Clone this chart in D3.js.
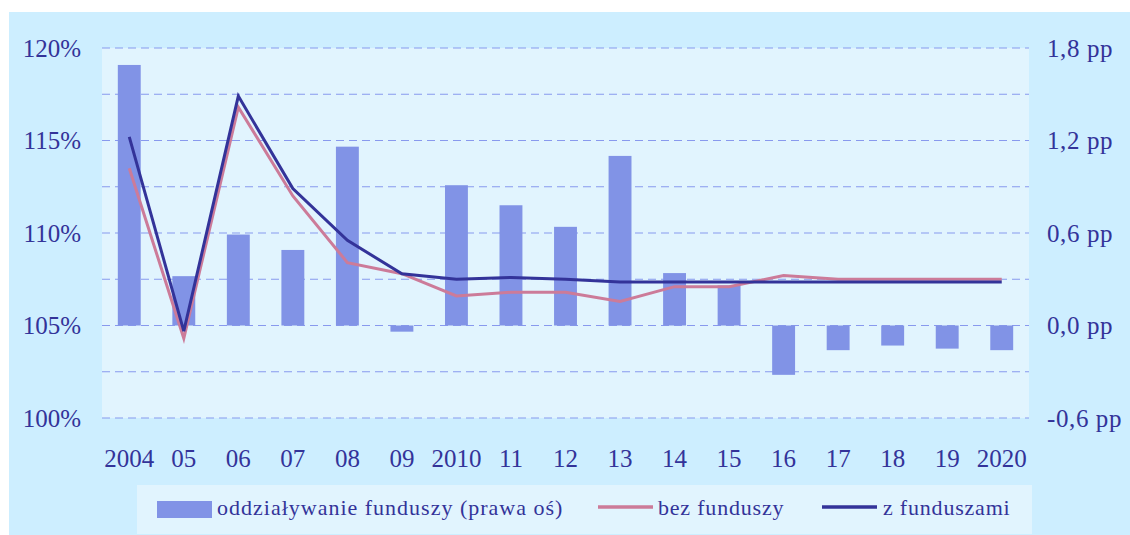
<!DOCTYPE html>
<html>
<head>
<meta charset="utf-8">
<script src="https://cdn.jsdelivr.net/npm/d3@7"></script>
<style>
  html, body { margin: 0; padding: 0; background: #ffffff; }
  svg { display: block; }
  text { font-family: "Liberation Serif", "Times New Roman", serif; fill: #333399; }
</style>
</head>
<body>
<svg id="chart" width="1130" height="535"></svg>
<script>
// ---- data ----
const years = ["2004","05","06","07","08","09","2010","11","12","13","14","15","16","17","18","19","2020"];
const fundImpact = [1.69, 0.32, 0.59, 0.49, 1.16, -0.04, 0.91, 0.78, 0.64, 1.10, 0.34, 0.26, -0.32, -0.16, -0.13, -0.15, -0.16]; // pp, right axis
const withoutFunds = [113.5, 104.3, 116.8, 112.0, 108.4, 107.8, 106.6, 106.8, 106.8, 106.3, 107.1, 107.1, 107.7, 107.5, 107.5, 107.5, 107.5]; // %
const withFunds = [115.2, 104.7, 117.4, 112.4, 109.6, 107.8, 107.5, 107.6, 107.5, 107.35, 107.35, 107.35, 107.35, 107.35, 107.35, 107.35, 107.35]; // %
const leftTicks = [100, 105, 110, 115, 120];
const rightTicks = [-0.6, 0.0, 0.6, 1.2, 1.8];
const gridTicks = [100, 102.5, 105, 107.5, 110, 112.5, 115, 117.5, 120];
const legendLabels = ["oddziaływanie funduszy (prawa oś)", "bez funduszy", "z funduszami"];

// ---- styles ----
const C = {
  outer: "#cdeeff", plot: "#e1f4fe", bar: "#8193e6",
  navy: "#333399", pink: "#cc7b99", grid: "#8899ee", text: "#333399"
};

const svg = d3.select("#chart");
const plot = { left: 102, right: 1029, top: 48, bottom: 418 };

// backgrounds
svg.append("rect").attr("x", 9).attr("y", 12).attr("width", 1121).attr("height", 523).attr("fill", C.outer);
svg.append("rect").attr("x", plot.left).attr("y", plot.top)
  .attr("width", plot.right - plot.left).attr("height", plot.bottom - plot.top).attr("fill", C.plot);

// scales
const x = d3.scaleBand().domain(years).range([plot.left, plot.right]).padding(0);
const yL = d3.scaleLinear().domain([100, 120]).range([plot.bottom, plot.top]);
const yR = d3.scaleLinear().domain([-0.6, 1.8]).range([plot.bottom, plot.top]);

// gridlines
svg.append("g").selectAll("line").data(gridTicks).join("line")
  .attr("x1", plot.left).attr("x2", plot.right)
  .attr("y1", d => yL(d)).attr("y2", d => yL(d))
  .attr("stroke", C.grid).attr("stroke-width", 1.2).attr("stroke-dasharray", "8,5");

// bars
const bw = x.bandwidth() * 0.42;
svg.append("g").selectAll("rect").data(fundImpact).join("rect")
  .attr("x", (d, i) => x(years[i]) + (x.bandwidth() - bw) / 2)
  .attr("width", bw)
  .attr("y", d => yR(Math.max(0, d)))
  .attr("height", d => Math.abs(yR(d) - yR(0)))
  .attr("fill", C.bar);

// lines
const line = d3.line().x((d, i) => x(years[i]) + x.bandwidth() / 2).y(d => yL(d));
svg.append("path").datum(withoutFunds).attr("d", line)
  .attr("fill", "none").attr("stroke", C.pink).attr("stroke-width", 3).attr("stroke-linejoin", "miter");
svg.append("path").datum(withFunds).attr("d", line)
  .attr("fill", "none").attr("stroke", C.navy).attr("stroke-width", 3).attr("stroke-linejoin", "miter");

// axes
const axL = d3.axisLeft(yL).tickValues(leftTicks).tickSize(0).tickPadding(0).tickFormat(d => d + "%");
const gL = svg.append("g").attr("transform", `translate(81,0)`).call(axL);
gL.select(".domain").remove();
gL.selectAll("text").attr("font-size", 25).attr("font-family", "Liberation Serif").attr("fill", C.text).attr("dy", "0.33em");

const fmtR = d => d3.format(".1f")(d).replace(".", ",").replace("−", "-") + " pp";
const axR = d3.axisRight(yR).tickValues(rightTicks).tickSize(0).tickPadding(0).tickFormat(fmtR);
const gR = svg.append("g").attr("transform", `translate(1047,0)`).call(axR);
gR.select(".domain").remove();
gR.selectAll("text").attr("font-size", 25).attr("font-family", "Liberation Serif").attr("fill", C.text)
  .attr("letter-spacing", 0.6).attr("dy", "0.33em");

const axB = d3.axisBottom(x).tickSize(0).tickPadding(0);
const gB = svg.append("g").attr("transform", `translate(0,450)`).call(axB);
gB.select(".domain").remove();
gB.selectAll("text").attr("font-size", 25).attr("font-family", "Liberation Serif").attr("fill", C.text).attr("dy", "0.68em");

// legend
const lg = svg.append("g");
lg.append("rect").attr("x", 137).attr("y", 485).attr("width", 895).attr("height", 49).attr("fill", C.plot);
lg.append("rect").attr("x", 157).attr("y", 501).attr("width", 55).attr("height", 17).attr("fill", C.bar);
lg.append("text").attr("x", 217).attr("y", 515).attr("font-size", 22).attr("letter-spacing", 1.0).text(legendLabels[0]);
lg.append("line").attr("x1", 598).attr("x2", 653).attr("y1", 507).attr("y2", 507).attr("stroke", C.pink).attr("stroke-width", 3.5);
lg.append("text").attr("x", 658).attr("y", 515).attr("font-size", 22).attr("letter-spacing", 0.8).text(legendLabels[1]);
lg.append("line").attr("x1", 822).attr("x2", 877).attr("y1", 507).attr("y2", 507).attr("stroke", C.navy).attr("stroke-width", 3.5);
lg.append("text").attr("x", 883).attr("y", 515).attr("font-size", 22).attr("letter-spacing", 0.8).text(legendLabels[2]);
</script>
</body>
</html>
